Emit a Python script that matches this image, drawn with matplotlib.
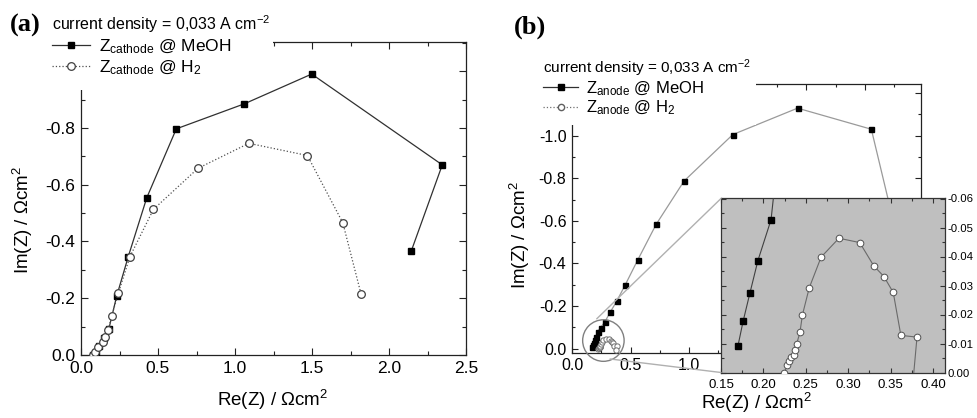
import matplotlib
matplotlib.use("Agg")
import matplotlib.pyplot as plt
from matplotlib.ticker import MultipleLocator, FormatStrFormatter
from matplotlib.patches import Ellipse, Rectangle, ConnectionPatch
from matplotlib.lines import Line2D

plt.rcParams['font.family'] = ['Liberation Sans', 'DejaVu Sans']
plt.rcParams['mathtext.fontset'] = 'custom'
plt.rcParams['mathtext.rm'] = 'Liberation Sans'
plt.rcParams['mathtext.it'] = 'Liberation Sans:italic'
plt.rcParams['mathtext.bf'] = 'Liberation Sans:bold'
plt.rcParams['axes.unicode_minus'] = False

# ---------------- data ----------------
# panel (a): cathode impedance
a_meoh_re = [0.08, 0.095, 0.12, 0.15, 0.18, 0.232, 0.307, 0.427, 0.619, 1.06, 1.498, 2.346, 2.145]
a_meoh_im = [0.0, -0.01, -0.03, -0.06, -0.09, -0.208, -0.347, -0.554, -0.797, -0.885, -0.99, -0.670, -0.367]
a_h2_re = [0.08, 0.091, 0.112, 0.144, 0.156, 0.177, 0.199, 0.242, 0.318, 0.47, 0.76, 1.09, 1.47, 1.70, 1.818]
a_h2_im = [0.0, -0.012, -0.029, -0.047, -0.064, -0.088, -0.137, -0.217, -0.347, -0.513, -0.658, -0.746, -0.703, -0.466, -0.216]

# panel (b): anode impedance
b_meoh_re = [0.170, 0.176, 0.184, 0.1935, 0.209, 0.219, 0.245, 0.282, 0.325, 0.382, 0.456, 0.561, 0.718, 0.957, 1.373, 1.926, 2.556, 2.80]
b_meoh_im = [-0.0092, -0.0176, -0.0273, -0.0386, -0.0527, -0.080, -0.099, -0.127, -0.170, -0.223, -0.301, -0.416, -0.583, -0.787, -1.005, -1.129, -1.030, -0.47]
b_h2_re = [0.2245, 0.228, 0.230, 0.233, 0.2355, 0.2375, 0.239, 0.243, 0.246, 0.254, 0.268, 0.289, 0.3135, 0.330, 0.342, 0.353, 0.362, 0.381, 0.376]
b_h2_im = [0.0, -0.0025, -0.0041, -0.0053, -0.0062, -0.0078, -0.0097, -0.0138, -0.0199, -0.0292, -0.0398, -0.0463, -0.0448, -0.0368, -0.0331, -0.0276, -0.0128, -0.0122, 0.004]

title_txt = r"current density = 0,033 A cm$^{\mathregular{-2}}$"
lab_a = [r"Z$_{\mathregular{cathode}}$ @ MeOH", r"Z$_{\mathregular{cathode}}$ @ H$_2$"]
lab_b = [r"Z$_{\mathregular{anode}}$ @ MeOH", r"Z$_{\mathregular{anode}}$ @ H$_2$"]
xlab = r"Re(Z) / Ωcm$^2$"
ylab = r"Im(Z) / Ωcm$^2$"

# ---------------- layout helpers ----------------
W, H = 977, 418
fig = plt.figure(figsize=(9.77, 4.18), dpi=100)


def fx(px):
    return px / W


def fy(py):
    return 1 - py / H


def box(l, t, r, b):
    return [fx(l), fy(b), fx(r) - fx(l), fy(t) - fy(b)]


def style(ax, fs, xmaj, xmin, ymaj, ymin, fmt, pad=4, maj=5, mnr=3, col='#222222'):
    ax.xaxis.set_major_locator(MultipleLocator(xmaj))
    ax.xaxis.set_minor_locator(MultipleLocator(xmin))
    ax.yaxis.set_major_locator(MultipleLocator(ymaj))
    ax.yaxis.set_minor_locator(MultipleLocator(ymin))
    ax.xaxis.set_major_formatter(FormatStrFormatter(fmt))
    ax.yaxis.set_major_formatter(FormatStrFormatter(fmt))
    ax.tick_params(which='both', direction='in', top=True, right=True,
                   labelsize=fs, width=0.8, color=col, pad=pad)
    ax.tick_params(which='major', length=maj)
    ax.tick_params(which='minor', length=mnr)
    for s in ax.spines.values():
        s.set_linewidth(0.9)
        s.set_color(col)


# ---------------- panel (a) ----------------
axa = fig.add_axes(box(81, 42, 466, 355))
axa.set_xlim(0, 2.5)
axa.set_ylim(0, -1.103)
style(axa, 12.5, 0.5, 0.25, 0.2, 0.1, '%.1f')
la1, = axa.plot(a_meoh_re, a_meoh_im, '-', color='#303030', lw=0.9, marker='s', ms=5,
                mfc='black', mec='black', zorder=3)
la2, = axa.plot(a_h2_re, a_h2_im, ':', color='#505050', lw=0.9, marker='o', ms=5.5,
                mfc='white', mec='#404040', mew=0.9, zorder=4)
axa.add_artist(Rectangle((fx(42), fy(90)), fx(273) - fx(42), fy(4) - fy(90),
                         transform=fig.transFigure, facecolor='white', edgecolor='none',
                         zorder=10, clip_on=False))
lega = axa.legend([la1, la2], lab_a, title=title_txt, loc='upper left',
                  bbox_to_anchor=(fx(52), fy(13)), bbox_transform=fig.transFigure,
                  frameon=False, borderpad=0, handlelength=2.2, handletextpad=0.5,
                  labelspacing=0.15, fontsize=12.5, title_fontsize=11.5,
                  alignment='left', borderaxespad=0)
lega.set_zorder(11)

fig.text(fx(273), fy(400), xlab, ha='center', va='center', fontsize=13.5)
fig.text(fx(23), fy(220), ylab, ha='center', va='center', fontsize=13.5, rotation=90)

fig.text(fx(10), fy(25), "(a)", ha='left', va='center', fontsize=19,
         fontfamily='Liberation Serif', fontweight='bold')

# ---------------- panel (b) ----------------
axb = fig.add_axes(box(572, 84.3, 921, 352.7))
axb.set_xlim(0, 2.98)
axb.set_ylim(0.019, -1.241)
style(axb, 11.5, 0.5, 0.25, 0.2, 0.1, '%.1f', maj=4.5, mnr=2.5)
axb.plot(b_meoh_re, b_meoh_im, '-', color='#9a9a9a', lw=0.9, marker='s', ms=3.6,
         mfc='black', mec='black', zorder=3)
axb.plot(b_h2_re, b_h2_im, '-', color='#9a9a9a', lw=0.8, marker='o', ms=3.8,
         mfc='white', mec='#707070', mew=0.7, zorder=4)
axb.add_patch(Ellipse((0.268, -0.038), 0.354, 0.195, facecolor='none',
                      edgecolor='#808080', lw=1.0, clip_on=False, zorder=5))
axb.add_artist(Rectangle((fx(508), fy(125)), fx(756) - fx(508), fy(40) - fy(125),
                         transform=fig.transFigure, facecolor='white', edgecolor='none',
                         zorder=10, clip_on=False))
hb1 = Line2D([], [], ls='-', color='#303030', lw=0.9, marker='s', ms=4, mfc='black', mec='black')
hb2 = Line2D([], [], ls=':', color='#707070', lw=0.9, marker='o', ms=4.5, mfc='white', mec='#606060')
legb = axb.legend([hb1, hb2], lab_b, title=title_txt, loc='upper left',
                  bbox_to_anchor=(fx(543), fy(57)), bbox_transform=fig.transFigure,
                  frameon=False, borderpad=0, handlelength=2.1, handletextpad=0.45,
                  labelspacing=0.05, fontsize=12, title_fontsize=11,
                  alignment='left', borderaxespad=0)
legb.set_zorder(11)

fig.text(fx(757), fy(403), xlab, ha='center', va='center', fontsize=13.5)
fig.text(fx(520), fy(235), ylab, ha='center', va='center', fontsize=13.5, rotation=90)
fig.text(fx(514), fy(27), "(b)", ha='left', va='center', fontsize=19,
         fontfamily='Liberation Serif', fontweight='bold')

# ---------------- inset ----------------
axi = fig.add_axes(box(721, 198.5, 945, 372.5), facecolor='#bfbfbf')
axi.set_xlim(0.15, 0.414)
axi.set_ylim(0, -0.06)
style(axi, 9.5, 0.05, 0.025, 0.01, 0.005, '%.2f', pad=5, maj=3.5, mnr=2, col='#333333')
axi.tick_params(axis='y', labelleft=False, labelright=True, labelsize=8.2, pad=2)
axi.plot(b_meoh_re, b_meoh_im, '-', color='#404040', lw=0.8, marker='s', ms=4.2,
         mfc='black', mec='black', zorder=3)
axi.plot(b_h2_re, b_h2_im, '-', color='#6a6a6a', lw=0.8, marker='o', ms=4.8,
         mfc='white', mec='#505050', mew=0.7, zorder=4)

for pA, pB in [((0.211, -0.140), (0, 1)), ((0.325, 0.0485), (0, 0))]:
    con = ConnectionPatch(xyA=pA, coordsA=axb.transData, xyB=pB, coordsB=axi.transAxes,
                          color='#b0b0b0', lw=1.0, zorder=1)
    fig.add_artist(con)

fig.savefig("out.png", dpi=100)
